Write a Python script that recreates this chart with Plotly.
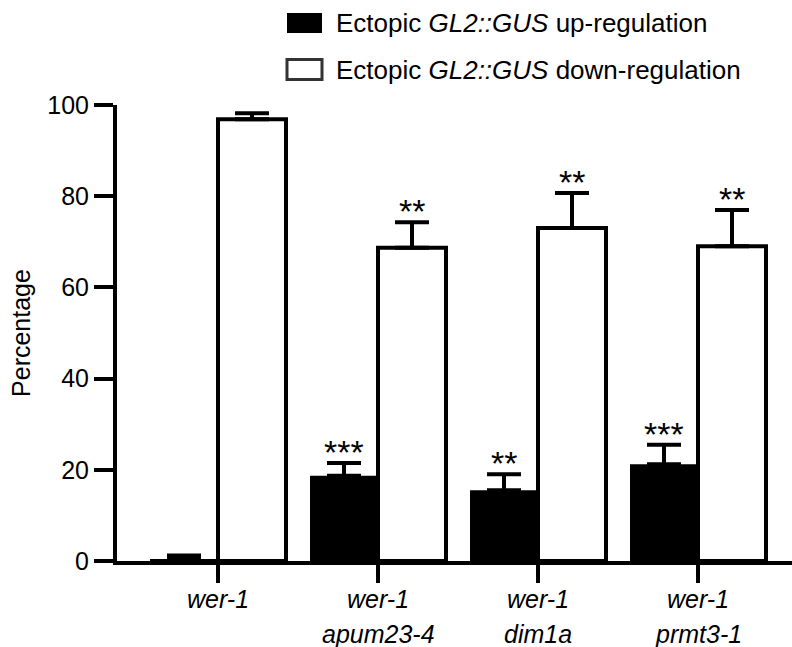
import plotly.graph_objects as go

# ---- data ----
category_lines = [["wer-1"], ["wer-1", "apum23-4"], ["wer-1", "dim1a"], ["wer-1", "prmt3-1"]]
series_names = ["Ectopic <i>GL2::GUS</i> up-regulation",
                "Ectopic <i>GL2::GUS</i> down-regulation"]
up_mean = [0.4, 18.7, 15.5, 21.2]
up_err = [0.8, 2.8, 3.5, 4.3]
down_mean = [96.9, 68.7, 73.0, 69.0]
down_err = [1.3, 5.6, 7.7, 8.0]
up_sig = ["", "***", "**", "***"]
down_sig = ["", "**", "**", "**"]
y_ticks = [0, 20, 40, 60, 80, 100]

FONT = "Liberation Sans, Arial, sans-serif"
W, H = 792, 647
ML, MR, MT, MB = 117, 0, 105, 86
PW, PH = W - ML - MR, H - MT - MB

def px(x):
    return (x - ML) / PW

def py(y):
    return (H - MB - y) / PH

xs = list(range(len(category_lines)))
fig = go.Figure()
fig.add_trace(go.Bar(
    x=xs, y=up_mean, name=series_names[0],
    marker=dict(color="black", line=dict(color="black", width=0)),
    error_y=dict(type="data", array=up_err, arrayminus=[0] * len(up_err),
                 symmetric=False, color="black", thickness=4, width=17),
))
fig.add_trace(go.Bar(
    x=xs, y=down_mean, name=series_names[1],
    marker=dict(color="white", line=dict(color="black", width=4)),
    error_y=dict(type="data", array=down_err, arrayminus=[0] * len(down_err),
                 symmetric=False, color="black", thickness=4, width=17),
))

bargap = 0.15
half = (1 - bargap) / 4
annotations = []
for i in xs:
    for off, mean, err, sig in ((-half, up_mean, up_err, up_sig),
                                (half, down_mean, down_err, down_sig)):
        if sig[i]:
            annotations.append(dict(
                x=i + off, y=mean[i] + err[i], xref="x", yref="y",
                text=sig[i], showarrow=False, yanchor="bottom", yshift=-10,
                font=dict(family=FONT, size=34, color="black")))

# category labels (two lines, italic)
for i, lines in zip(xs, category_lines):
    for k, line in enumerate(lines):
        annotations.append(dict(
            x=i, y=py(599 + 35 * k), xref="x", yref="paper",
            text="<i>" + line + "</i>", showarrow=False,
            xanchor="center", yanchor="middle",
            font=dict(family=FONT, size=25, color="black")))

# legend (custom)
legend_rows = [(23, "black", "black", 0), (69.5, "white", "#333333", 3)]
shapes = []
for (cy, fill, lc, lw), name in zip(legend_rows, series_names):
    shapes.append(dict(type="rect", xref="paper", yref="paper",
                       x0=px(287), x1=px(322), y0=py(cy - 10), y1=py(cy + 10),
                       fillcolor=fill, line=dict(color=lc, width=lw)))
    annotations.append(dict(x=px(334), y=py(cy), xref="paper", yref="paper",
                            text=name, showarrow=False, xanchor="left",
                            yanchor="middle",
                            font=dict(family=FONT, size=26, color="black")))

fig.update_layout(
    width=W, height=H,
    margin=dict(l=ML, r=MR, t=MT, b=MB, autoexpand=False),
    paper_bgcolor="white", plot_bgcolor="white",
    barmode="group", bargap=bargap, bargroupgap=0,
    showlegend=False,
    font=dict(family=FONT, size=25, color="black"),
    annotations=annotations, shapes=shapes,
)
fig.update_xaxes(
    range=[(ML - 218) / 160, (W - MR - 218) / 160],
    tickvals=xs, showticklabels=False,
    showline=True, linecolor="black", linewidth=4,
    ticks="outside", ticklen=18, tickwidth=4, tickcolor="black",
    showgrid=False, zeroline=False,
)
fig.update_yaxes(
    range=[0, 100], tickvals=y_ticks,
    showline=True, linecolor="black", linewidth=4,
    ticks="outside", ticklen=19, tickwidth=4, tickcolor="black",
    showgrid=False, zeroline=False,
    tickfont=dict(family=FONT, size=25, color="black"),
    title=dict(text="Percentage", standoff=11,
               font=dict(family=FONT, size=25, color="black")),
)

fig.write_html("out.html", config={"displayModeBar": False},
               post_script="document.body.style.margin='0px';document.body.style.overflow='hidden';")
